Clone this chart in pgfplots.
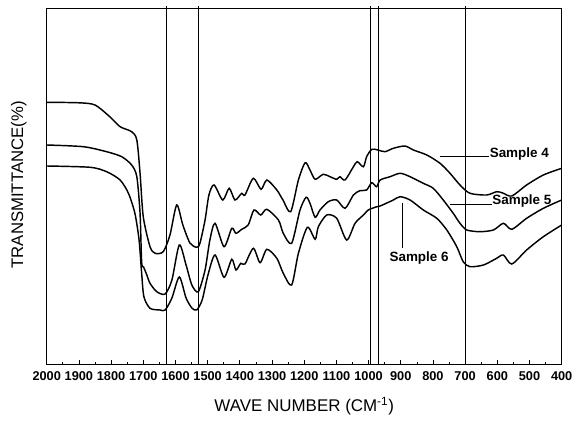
\documentclass[border=0pt]{standalone}
\usepackage{pgfplots}
\pgfplotsset{compat=1.18}
\usepackage{fontspec}
\setmainfont{Liberation Sans}
\begin{document}
\begin{tikzpicture}
\useasboundingbox (0,0) rectangle (582bp,422bp);
\begin{axis}[
  at={(46.7bp,58bp)}, anchor=south west,
  scale only axis, width=515bp, height=356bp,
  x dir=reverse, xmin=400, xmax=2000, ymin=0, ymax=356,
  xtick={400,500,...,2000}, ytick=\empty,
  minor x tick num=1,
  xtick pos=left, tick align=inside,
  major tick length=4bp, minor tick length=2bp,
  axis line style={line width=0.9bp},
  every tick/.style={black, line width=0.7bp},
  /pgf/number format/1000 sep={},
  /pgf/number format/assume math mode=true,
  xticklabel style={font=\bfseries\fontsize{12.8}{14}\selectfont, yshift=-4bp},
  xlabel={WAVE NUMBER (CM\textsuperscript{-1})},
  ylabel={TRANSMITTANCE(\%)},
  xlabel style={font=\fontsize{17}{18}\selectfont, at={(axis description cs:0.5,-0.118)}, anchor=center},
  ylabel style={font=\fontsize{16.8}{18}\selectfont, at={(axis description cs:-0.054,0.503)}, anchor=center},
  clip=false,
  spec/.style={black, mark=none, line width=1.45bp, smooth, tension=0.45}
]
% Sample 4
\addplot[spec] coordinates {(2000,261.7)(1900,261.2)(1850,259)(1803,247)(1772,237.3)(1736,232.3)(1720,224)(1710,191)(1700,147.3)(1679,117.3)(1663,110.7)(1638,112.3)(1617,129)(1596,159)(1577,139)(1555,121)(1534,116.7)(1524,120.7)(1508,144)(1496,169)(1480,179)(1453,164)(1433,175.7)(1415,164)(1394,170.7)(1384,169)(1358,185.7)(1334,174.7)(1316,184)(1285,174)(1266,164)(1242,152.3)(1218,184)(1197,201.3)(1182,194)(1166,184.7)(1141,189.7)(1120,187.3)(1099,184.7)(1089,187.3)(1073,184)(1047,197.3)(1035,202.3)(1016,197.3)(1006,207.3)(990,214.7)(971,214)(949,212.3)(923,215.7)(887,218)(861,214)(819,209)(778,200.7)(747,190.7)(716,179)(685,170.7)(633,169)(602,172.3)(583,171)(555,168)(509,179)(457,189)(400,195.7)};
% Sample 5
\addplot[spec] coordinates {(2000,219)(1886,217.3)(1814,212.3)(1767,207.3)(1736,199)(1720,187.3)(1710,151)(1705,102)(1699,97)(1690,90)(1679,80.7)(1658,72.3)(1632,70)(1611,84)(1588,119)(1567,99)(1549,79)(1529,72.3)(1508,94)(1493,124)(1477,140.7)(1449,117.3)(1425,135.7)(1412,130.7)(1394,134.7)(1374,139)(1356,154)(1335,149)(1316,154.7)(1280,144)(1265,130.7)(1239,120.7)(1213,154)(1194,166.7)(1182,160.7)(1166,146.7)(1151,154)(1125,162.3)(1099,164)(1073,155.7)(1047,169)(1027,173.3)(1006,174)(990,181.3)(975,177.3)(964,184)(933,187.3)(902,190.7)(871,187.3)(830,180.7)(799,175.7)(768,164)(737,150.7)(716,140.7)(695,134)(654,132.3)(612,134)(581,140.7)(555,134.7)(509,145.7)(457,155.7)(400,164)};
% Sample 6
\addplot[spec] coordinates {(2000,198)(1865,196.7)(1814,192.3)(1772,184)(1746,170.7)(1726,150.7)(1713,124)(1705,90.7)(1698,67.3)(1679,55.7)(1648,54)(1632,54)(1611,66)(1588,87)(1567,66)(1549,56)(1534,54)(1517,64)(1499,89)(1477,109)(1449,86.7)(1425,104.7)(1412,94)(1397,100.7)(1384,100)(1358,115.7)(1337,101.3)(1316,114.7)(1285,105.7)(1265,90.7)(1239,79)(1218,110.7)(1190,136.7)(1166,124.7)(1156,137.3)(1130,149)(1099,145.7)(1068,124)(1042,140.7)(1016,149)(1001,154)(986,156)(974,157.3)(964,158)(923,164)(902,167.3)(871,164)(830,154)(788,145.7)(757,134)(726,117.3)(706,102.3)(685,97.3)(643,99)(602,105.7)(581,109)(555,100)(509,114)(457,127.3)(400,139)};
% vertical reference lines
\addplot[black, mark=none, line width=0.9bp, sharp plot] coordinates {(1629,0)(1629,358)};
\addplot[black, mark=none, line width=0.9bp, sharp plot] coordinates {(1530,0)(1530,358)};
\addplot[black, mark=none, line width=0.9bp, sharp plot] coordinates {(993,0)(993,358)};
\addplot[black, mark=none, line width=0.9bp, sharp plot] coordinates {(970,0)(970,358)};
\addplot[black, mark=none, line width=0.9bp, sharp plot] coordinates {(700,0)(700,358)};
% annotations
\draw[line width=0.8bp] (axis cs:778,207.3) -- (axis cs:626,207.3);
\node[anchor=west, inner sep=0pt, font=\bfseries\fontsize{13.5}{15}\selectfont] at (axis cs:624,210) {Sample 4};
\draw[line width=0.8bp] (axis cs:747,160) -- (axis cs:616,160);
\node[anchor=west, inner sep=0pt, font=\bfseries\fontsize{13.5}{15}\selectfont] at (axis cs:616,163) {Sample 5};
\draw[line width=0.8bp] (axis cs:894,161.3) -- (axis cs:894,115.7);
\node[anchor=north, inner sep=0pt, font=\bfseries\fontsize{13.5}{15}\selectfont] at (axis cs:843,112.5) {Sample 6};
\end{axis}
\end{tikzpicture}
\end{document}
